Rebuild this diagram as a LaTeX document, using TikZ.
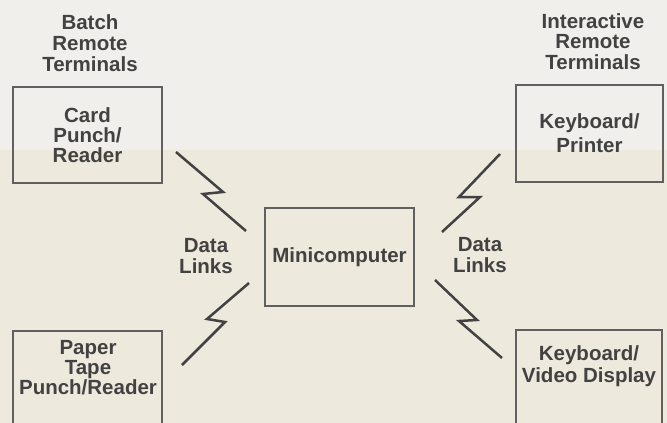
\documentclass[tikz,border=0pt]{standalone}
\usepackage{fontspec}
\setmainfont{Liberation Sans}
\usepackage{xcolor}
\definecolor{paper}{RGB}{238,233,221}
\definecolor{paperlight}{RGB}{240,239,235}
\definecolor{ink}{RGB}{66,66,66}
\definecolor{frame}{RGB}{96,96,96}

\begin{document}
\begin{tikzpicture}[x=1pt,y=-1pt]
\tikzstyle{every node}=[text=ink,font=\bfseries\fontsize{20.5}{21}\selectfont,align=center,inner sep=0pt];
\tikzstyle{box}=[draw=frame,line width=2pt];
\tikzstyle{bolt}=[draw=ink,line width=2.5pt];
\fill[paper] (0,0) rectangle (667,423);
\fill[paperlight] (0,0) rectangle (667,150);
\useasboundingbox (0,0) rectangle (667,423);
% terminals and the minicomputer
\node[box,minimum width=149pt,minimum height=96pt](card) at (87.5,135) {Card\\[-1pt]Punch/\\[-1pt]Reader};
\node[box,minimum width=147pt,minimum height=97pt](kbp) at (589.5,133.5) {Keyboard/\\[3pt]Printer};
\node[box,minimum width=149pt,minimum height=98pt](mini) at (339.5,257) {Minicomputer};
\node[box,minimum width=149pt,minimum height=120pt](tape) at (87.5,391) {};
\node[box,minimum width=146pt,minimum height=120pt](kbv) at (589,390) {};
\node(tapetxt) at (88,368) {Paper\\[-1pt]Tape\\[-1pt]Punch/Reader};
\node(kbvtxt) at (589,366) {Keyboard/\\[1pt]Video Display};
% headings
\node(batch) at (90,43) {Batch\\Remote\\Terminals};
\node(inter) at (593,41.5) {Interactive\\[-0.5pt]Remote\\[-0.5pt]Terminals};
\node(dl1) at (206,256.5) {Data\\Links};
\node(dl2) at (480,255.5) {Data\\Links};
% data links
\coordinate(a1) at (176,152); \coordinate(b1) at (246,231);
\coordinate(a2) at (249,283); \coordinate(b2) at (182,365);
\coordinate(a3) at (500,154); \coordinate(b3) at (442,232);
\coordinate(a4) at (435,280); \coordinate(b4) at (502,358);
\draw[bolt](a1)--++(47,40)--++(-20,2)--(b1);
\draw[bolt](a2)--++(-42,36)--++(18,3)--(b2);
\draw[bolt](a3)--++(-41,43)--++(21,0)--(b3);
\draw[bolt](a4)--++(42,40)--++(-18,1)--(b4);
\end{tikzpicture}
\end{document}
